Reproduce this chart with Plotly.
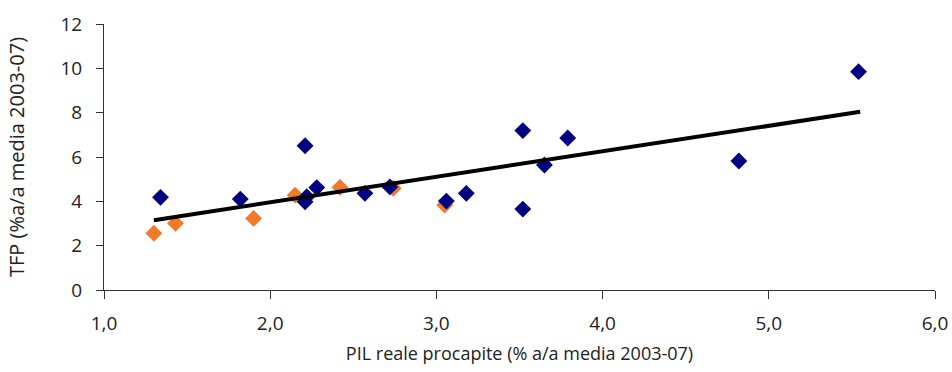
import plotly.graph_objects as go

# Blue series (navy diamonds)
blue_x = [1.34, 1.82, 2.21, 2.21, 2.22, 2.28, 2.57, 2.72, 3.06, 3.18, 3.52, 3.52, 3.65, 3.79, 4.82, 5.54]
blue_y = [4.18, 4.10, 6.51, 3.98, 4.21, 4.62, 4.36, 4.65, 4.01, 4.36, 7.19, 3.65, 5.64, 6.86, 5.82, 9.85]

# Orange series
orange_x = [1.30, 1.43, 1.90, 2.15, 2.42, 2.74, 3.05]
orange_y = [2.56, 3.01, 3.23, 4.28, 4.63, 4.59, 3.83]

# Trend line endpoints
trend_x = [1.30, 5.55]
trend_y = [3.15, 8.04]

x_ticks = [1, 2, 3, 4, 5, 6]
x_tick_labels = ["1,0", "2,0", "3,0", "4,0", "5,0", "6,0"]
y_ticks = [0, 2, 4, 6, 8, 10, 12]

fig = go.Figure()
fig.add_trace(go.Scatter(x=orange_x, y=orange_y, mode="markers",
                         marker=dict(symbol="diamond", size=13, color="#F07A28"),
                         showlegend=False))
fig.add_trace(go.Scatter(x=blue_x, y=blue_y, mode="markers",
                         marker=dict(symbol="diamond", size=13, color="#000080"),
                         showlegend=False))
fig.add_trace(go.Scatter(x=trend_x, y=trend_y, mode="lines",
                         line=dict(color="black", width=4),
                         showlegend=False))

fig.update_layout(
    width=952, height=372,
    margin=dict(l=104, r=17, t=24, b=82),
    paper_bgcolor="white", plot_bgcolor="white",
    font=dict(family="Open Sans", size=19, color="#222"),
    xaxis=dict(range=[1, 6], tickvals=x_ticks, ticktext=x_tick_labels, automargin=False,
               showgrid=False, zeroline=False, showline=True, linecolor="#333", linewidth=1,
               ticks="outside", ticklen=8, tickcolor="#333", ticklabelstandoff=8,
               tickfont=dict(size=19),
               title=dict(text="PIL reale procapite (% a/a media 2003-07)", standoff=12,
                          font=dict(size=18))),
    yaxis=dict(range=[0, 12], tickvals=y_ticks, automargin=False,
               showgrid=False, zeroline=False, showline=True, linecolor="#333", linewidth=1,
               ticks="outside", ticklen=7, tickcolor="#333", ticklabelstandoff=10,
               tickfont=dict(size=19),
               title=dict(text="TFP (%a/a media 2003-07)", standoff=30,
                          font=dict(size=20))),
)

fig.write_html("out.html")
